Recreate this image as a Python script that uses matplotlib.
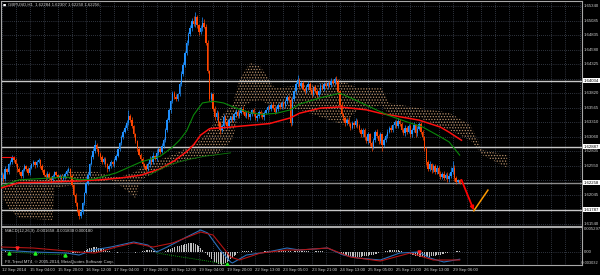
import numpy as np
import matplotlib
matplotlib.use("Agg")
import matplotlib.pyplot as plt
from matplotlib.transforms import blended_transform_factory as blend

# GBPUSD H1 candles (open = previous close)
first_open = 1.6235
closes = [
    1.6240, 1.6232, 1.6250, 1.6245, 1.6258, 1.6262, 1.6270, 1.6266, 1.6258, 1.6250,
    1.6245, 1.6238, 1.6248, 1.6255, 1.6250, 1.6243, 1.6252, 1.6258, 1.6262, 1.6256,
    1.6262, 1.6265, 1.6255, 1.6248, 1.6240, 1.6236, 1.6242, 1.6235, 1.6230, 1.6238,
    1.6244, 1.6240, 1.6235, 1.6238, 1.6232, 1.6236, 1.6242, 1.6246, 1.6250, 1.6238,
    1.6222, 1.6205, 1.6190, 1.6178, 1.6168, 1.6175, 1.6190, 1.6208, 1.6225, 1.6240,
    1.6258, 1.6270, 1.6282, 1.6292, 1.6285, 1.6276, 1.6270, 1.6262, 1.6268, 1.6258,
    1.6250, 1.6255, 1.6262, 1.6258, 1.6266, 1.6272, 1.6284, 1.6295, 1.6305, 1.6315,
    1.6322, 1.6330, 1.6342, 1.6336, 1.6325, 1.6310, 1.6298, 1.6285, 1.6275, 1.6268,
    1.6258, 1.6255, 1.6250, 1.6258, 1.6266, 1.6262, 1.6272, 1.6268, 1.6278, 1.6285,
    1.6280, 1.6290, 1.6300, 1.6318, 1.6335, 1.6352, 1.6368, 1.6382, 1.6376, 1.6372,
    1.6380, 1.6398, 1.6415, 1.6432, 1.6452, 1.6470, 1.6485, 1.6495, 1.6508, 1.6502,
    1.6515, 1.6500, 1.6488, 1.6495, 1.6505, 1.6498, 1.6470, 1.6420, 1.6372, 1.6380,
    1.6355, 1.6340, 1.6348, 1.6330, 1.6318, 1.6325, 1.6340, 1.6332, 1.6325, 1.6335,
    1.6340, 1.6336, 1.6345, 1.6350, 1.6342, 1.6348, 1.6355, 1.6350, 1.6343, 1.6348,
    1.6340, 1.6345, 1.6352, 1.6346, 1.6338, 1.6342, 1.6350, 1.6345, 1.6340, 1.6348,
    1.6352, 1.6358, 1.6355, 1.6362, 1.6357, 1.6350, 1.6355, 1.6362, 1.6358, 1.6365,
    1.6360, 1.6368, 1.6375, 1.6370, 1.6330, 1.6372, 1.6385, 1.6398, 1.6405, 1.6395,
    1.6400, 1.6390, 1.6385, 1.6392, 1.6398, 1.6388, 1.6380, 1.6392, 1.6386, 1.6378,
    1.6385, 1.6395, 1.6390, 1.6398, 1.6394, 1.6400, 1.6396, 1.6404, 1.6400, 1.6406,
    1.6402, 1.6385, 1.6362, 1.6345, 1.6338, 1.6330, 1.6336, 1.6328, 1.6322, 1.6330,
    1.6326, 1.6334, 1.6325, 1.6318, 1.6310, 1.6318, 1.6305, 1.6298, 1.6310, 1.6295,
    1.6288, 1.6300, 1.6315, 1.6308, 1.6298, 1.6310, 1.6292, 1.6300, 1.6308, 1.6315,
    1.6322, 1.6318, 1.6326, 1.6332, 1.6325, 1.6334, 1.6328, 1.6318, 1.6312, 1.6322,
    1.6315, 1.6325, 1.6310, 1.6318, 1.6326, 1.6312, 1.6320, 1.6328, 1.6315, 1.6305,
    1.6285, 1.6262, 1.6250, 1.6258, 1.6248, 1.6255, 1.6245, 1.6252, 1.6242, 1.6236,
    1.6242, 1.6235, 1.6240, 1.6232, 1.6238, 1.6245, 1.6252, 1.6235, 1.6228, 1.6230,
    1.6226,
]
# wick lengths in pips above / below the body
wick_hi = [
    4, 3, 5, 2, 3, 4, 5, 2, 3, 2,   3, 2, 4, 3, 2, 3, 4, 2, 3, 2,
    3, 4, 2, 3, 2, 3, 4, 2, 3, 3,   2, 3, 2, 4, 2, 3, 2, 3, 4, 2,
    3, 2, 3, 2, 3, 4, 3, 2, 3, 4,   3, 4, 5, 8, 3, 2, 3, 4, 2, 3,
    2, 3, 4, 2, 3, 4, 3, 2, 4, 3,   4, 5, 11, 3, 4, 2, 3, 2, 3, 2,
    3, 2, 3, 4, 6, 5, 8, 3, 6, 4,   3, 5, 4, 3, 4, 5, 3, 4, 3, 4,
    3, 4, 5, 4, 3, 5, 4, 6, 5, 8,   9, 4, 3, 5, 10, 6, 5, 4, 3, 4,
    3, 4, 5, 3, 4, 3, 5, 4, 3, 4,   3, 4, 3, 4, 3, 4, 3, 4, 3, 3,
    4, 3, 3, 4, 3, 4, 3, 3, 4, 3,   3, 4, 3, 3, 4, 3, 4, 3, 4, 3,
    4, 3, 4, 3, 5, 4, 3, 4, 9, 4,   3, 4, 3, 4, 5, 3, 4, 3, 4, 3,
    3, 4, 3, 4, 3, 4, 3, 4, 3, 4,   6, 4, 3, 4, 3, 4, 3, 4, 3, 4,
    3, 4, 3, 3, 4, 3, 4, 3, 4, 3,   3, 4, 3, 4, 3, 4, 3, 4, 3, 4,
    3, 4, 3, 4, 3, 4, 3, 4, 3, 4,   3, 4, 3, 4, 5, 3, 4, 3, 4, 3,
    3, 4, 3, 5, 3, 4, 3, 4, 3, 4,   3, 4, 3, 4, 5, 8, 12, 4, 3, 3,
    2,
]
wick_lo = [
    6, 4, 3, 4, 3, 2, 3, 4, 3, 5,   3, 4, 3, 2, 3, 4, 3, 2, 3, 4,
    3, 2, 3, 4, 3, 5, 3, 4, 5, 3,   4, 3, 4, 3, 5, 3, 4, 3, 2, 4,
    4, 3, 4, 3, 5, 3, 4, 3, 2, 3,   3, 2, 3, 4, 3, 4, 3, 4, 3, 4,
    5, 3, 4, 3, 4, 3, 2, 3, 4, 3,   3, 4, 3, 4, 3, 4, 3, 4, 3, 4,
    3, 5, 4, 3, 4, 3, 4, 3, 4, 3,   4, 3, 4, 3, 4, 3, 4, 3, 4, 3,
    4, 3, 4, 3, 4, 3, 4, 3, 4, 3,   4, 5, 4, 3, 4, 3, 4, 3, 4, 5,
    4, 5, 4, 6, 8, 4, 3, 4, 5, 4,   3, 4, 3, 4, 3, 4, 3, 4, 3, 4,
    3, 4, 3, 4, 3, 4, 3, 4, 3, 4,   3, 4, 3, 4, 3, 4, 3, 4, 3, 4,
    4, 3, 4, 3, 6, 4, 3, 4, 3, 4,   4, 3, 4, 3, 4, 3, 4, 3, 4, 3,
    3, 4, 3, 4, 3, 4, 3, 4, 3, 4,   4, 3, 4, 3, 4, 5, 3, 4, 5, 3,
    4, 3, 4, 3, 4, 5, 4, 3, 4, 5,   6, 4, 3, 4, 5, 3, 10, 4, 3, 4,
    3, 4, 3, 4, 3, 4, 3, 4, 3, 4,   4, 3, 5, 4, 3, 6, 4, 3, 4, 5,
    4, 5, 4, 3, 5, 4, 3, 4, 5, 4,   4, 5, 3, 4, 5, 4, 3, 6, 4, 3,
    2,
]

# moving averages (bar index, price)
slow_ma_bar = [0, 10, 27, 44, 56, 67, 79, 90, 98, 105, 109, 113, 118, 130, 141,
               152, 164, 169, 181, 192, 207, 215, 226, 237, 249, 254, 261]
slow_ma = [1.6217, 1.6226, 1.6227, 1.6229, 1.6231, 1.6234, 1.6239, 1.6250, 1.6264,
           1.6280, 1.6292, 1.6309, 1.6320, 1.6323, 1.6326, 1.6329, 1.6339, 1.6347,
           1.6356, 1.6358, 1.6353, 1.6347, 1.6341, 1.6335, 1.6323, 1.6314, 1.6300]
fast_ma_bar = [0, 10, 27, 37, 44, 52, 65, 79, 90, 97, 101, 105, 109, 114, 120, 126,
               134, 141, 148, 156, 164, 169, 181, 192, 198, 207, 219, 230, 239, 249,
               254, 260]
fast_ma = [1.6220, 1.6231, 1.6234, 1.6236, 1.6231, 1.6232, 1.6243, 1.6262, 1.6272,
           1.6288, 1.6300, 1.6316, 1.6344, 1.6365, 1.6368, 1.6365, 1.6355, 1.6348,
           1.6345, 1.6347, 1.6353, 1.6363, 1.6374, 1.6382, 1.6374, 1.6361, 1.6344,
           1.6332, 1.6323, 1.6306, 1.6297, 1.6274]
low_line_bar = [84, 95, 104, 115, 130]
low_line = [1.6240, 1.6257, 1.6265, 1.6272, 1.6278]
stub_bar = [0, 7]
stub = [1.6271, 1.6271]

# ichimoku cloud edges (bar index, upper, lower)
cloud_bar = [1, 5, 10, 29, 30, 37, 54, 62, 67, 76, 79, 90, 101, 113, 122, 131,
             135, 141, 147, 155, 169, 194, 202, 216, 220, 237, 254, 266, 273, 287]
cloud_top = [1.6228, 1.6229, 1.6231, 1.6231, 1.6234, 1.6245, 1.6245, 1.6238,
             1.6236, 1.6245, 1.6253, 1.6266, 1.6280, 1.6300, 1.6335, 1.6361,
             1.6405, 1.6435, 1.6428, 1.6391, 1.6396, 1.6402, 1.6391, 1.6391,
             1.6365, 1.6356, 1.6348, 1.6327, 1.6283, 1.6274]
cloud_bot = [1.6196, 1.6178, 1.6164, 1.6161, 1.6217, 1.6220, 1.6227, 1.6231,
             1.6222, 1.6199, 1.6231, 1.6248, 1.6262, 1.6270, 1.6274, 1.6300,
             1.6353, 1.6366, 1.6370, 1.6356, 1.6353, 1.6327, 1.6353, 1.6361,
             1.6344, 1.6339, 1.6318, 1.6300, 1.6274, 1.6252]

levels = [1.64034, 1.62887, 1.62258, 1.61787]
price_ticks = [1.65340, 1.65085, 1.64835, 1.64580, 1.64325, 1.64070, 1.63820,
               1.63565, 1.63310, 1.63060, 1.62805, 1.62550, 1.62300, 1.62045,
               1.61790, 1.61540]
price_labels = ["1.65340", "1.65085", "1.64835", "1.64580", "1.64325", "", "1.63820",
                "1.63565", "1.63310", "1.63060", "1.62805", "1.62550", "", "1.62045",
                "", "1.61540"]
time_labels = ["12 Sep 2014", "15 Sep 04:00", "15 Sep 20:00", "16 Sep 12:00",
               "17 Sep 04:00", "17 Sep 20:00", "18 Sep 12:00", "19 Sep 04:00",
               "19 Sep 20:00", "22 Sep 13:00", "23 Sep 05:00", "23 Sep 21:00",
               "24 Sep 13:00", "25 Sep 05:00", "25 Sep 21:00", "26 Sep 13:00",
               "29 Sep 06:00"]

# MACD pane
macd_bar = [0, 18, 37, 44, 52, 62, 75, 83, 88, 94, 105, 113, 117, 124, 130, 131,
            139, 151, 162, 169, 185, 194, 202, 215, 226, 237, 243, 251, 260]
macd_main = [0.00046, 0.0, -0.00023, -0.00069, 0.00046, 0.00115, 0.00230, 0.00161,
             0.0, 0.00115, 0.00345, 0.00507, 0.00438, 0.00046, -0.00230, -0.00253,
             -0.00069, 0.0, 0.00092, 0.00046, 0.00092, -0.00069, -0.00138, -0.00184,
             -0.00023, 0.0, -0.00138, -0.00230, -0.00166]
signal_bar = [0, 18, 44, 53, 65, 75, 86, 97, 113, 120, 130, 135, 147, 162, 169,
              185, 198, 215, 232, 245, 260]
macd_signal = [0.00115, 0.00092, 0.0, -0.00023, 0.00115, 0.00207, 0.00115, 0.00207,
               0.00461, 0.00392, -0.00115, -0.00184, -0.00023, 0.00046, 0.00046,
               0.00092, -0.00115, -0.00207, -0.00023, -0.00184, -0.00184]
# histogram, units of 0.0001
hist = [
    1, 1, 2, 1, 1, 0, -1, 0, 1, 1,   0, -1, -1, 0, 1, 1, 0, -1, 0, 1,
    1, 1, 0, -1, -1, -1, 0, 0, -1, -1,   0, 1, 0, -1, 0, 0, 1, 1, 0, -1,
    -2, -3, -3, -2, -2, -1, 1, 3, 5, 7,   9, 10, 11, 12, 11, 10, 9, 7, 6, 4,
    3, 2, 1, 0, -1, -1, -2, -1, -1, 0,   0, 1, 1, 0, -1, -1, -2, -1, 0, 1,
    2, 3, 4, 5, 5, 4, 3, 2, 2, 1,   0, 0, 1, 2, 4, 6, 8, 10, 11, 13,
    14, 15, 16, 17, 18, 19, 20, 21, 21, 20,   18, 16, 13, 9, 5, 1, -3, -7, -11, -15,
    -19, -22, -25, -27, -28, -29, -28, -26, -24, -21,   -17, -13, -9, -6, -3, -1, 1, 2, 2, 3,
    3, 2, 2, 1, 1, 0, -1, 0, 1, 2,   2, 3, 3, 2, 2, 1, 1, 2, 3, 3,
    2, 2, 3, 3, 2, 1, 2, 3, 3, 3,   3, 3, 2, 2, 2, 1, 1, 1, 2, 2,
    2, 2, 2, 1, 1, 1, 1, 1, 1, 0,   0, -1, -3, -5, -6, -8, -9, -10, -10, -11,
    -11, -12, -12, -11, -11, -10, -10, -9, -9, -8,   -7, -6, -5, -4, -3, -1, 0, 1, 2, 3,
    4, 5, 5, 5, 4, 4, 3, 2, 1, 0,   -1, -2, -4, -6, -8, -9, -10, -11, -12, -12,
    -12, -12, -11, -11, -10, -10, -9, -8, -7, -6,   -5, -4, -3, -2, -1, 0, 1, 1, 2, 2,
    2,
]
buy_bar = [4, 19, 36, 128]
buy_val = [-0.00023, -0.00023, -0.00069, -0.0028]
sell_bar = [9, 237]
sell_val = [0.0009, 0.0]

PIP = 0.0001
BULL, BEAR = "#1E90FF", "#FF4500"
TXT = "#D0D0D0"
GRID = "#5C6678"
W, H = 600, 275

plt.rcParams["hatch.linewidth"] = 0.6
plt.rcParams["font.family"] = ["Liberation Sans", "DejaVu Sans"]
fig = plt.figure(figsize=(6, 2.75), dpi=100, facecolor="black")


def px_axes(x0, y0, x1, y1):
    a = fig.add_axes([x0 / W, 1 - y1 / H, (x1 - x0) / W, (y1 - y0) / H])
    a.set_facecolor("black")
    a.set_xticks([])
    a.set_yticks([])
    for s in a.spines.values():
        s.set_color("#A8A8A8")
        s.set_linewidth(0.8)
    return a


ax = px_axes(1, 1, 582, 226)
ax2 = px_axes(1, 227, 582, 265)
xlim = (-0.3, 329.4)
ax.set_xlim(*xlim)
ax2.set_xlim(*xlim)
ax.set_ylim(1.61505, 1.65427)
ax2.set_ylim(-0.00299, 0.00576)

# grid
for k in range(0, 330, 8):
    ax.axvline(k, color=GRID, lw=0.5, ls=(0, (1, 2)), zorder=0)
    ax2.axvline(k, color=GRID, lw=0.5, ls=(0, (1, 2)), zorder=0)
for p in price_ticks:
    ax.axhline(p, color=GRID, lw=0.5, ls=(0, (1, 2)), zorder=0)
ax2.axhline(0.0, color=GRID, lw=0.5, ls=(0, (1, 2)), zorder=0)

# cloud
ax.fill_between(cloud_bar, cloud_bot, cloud_top, facecolor="none",
                edgecolor="#B8906A", hatch="......", linewidth=0, zorder=1)

# horizontal levels
for lv, col in zip(levels, ["#C8C8C8", "#C8C8C8", "#8C8C8C", "#C8C8C8"]):
    ax.axhline(lv, color=col, lw=1.0, zorder=2)

# candles
n = min(len(closes), len(wick_hi), len(wick_lo))
c = np.array(closes[:n])
o = np.concatenate([[first_open], c[:-1]])
hi = np.maximum(o, c) + np.array(wick_hi[:n]) * PIP
lo = np.minimum(o, c) - np.array(wick_lo[:n]) * PIP
idx = np.arange(n)
cols = np.where(c >= o, BULL, BEAR)
ax.vlines(idx, lo, hi, colors=cols, lw=0.5, zorder=3)
ax.bar(idx, np.maximum(np.abs(c - o), 0.3 * PIP), bottom=np.minimum(o, c),
       width=0.8, color=cols, linewidth=0, zorder=3)

# indicator lines
ax.plot(slow_ma_bar, slow_ma, color="#FF1010", lw=1.1, zorder=4)
ax.plot(fast_ma_bar, fast_ma, color="#0A8A0A", lw=0.8, zorder=4)
ax.plot(low_line_bar, low_line, color="#0A7A0A", lw=0.6, zorder=4)
ax.plot(stub_bar, stub, color="#FF1010", lw=0.8, zorder=4)

# forecast arrows
ax.annotate("", xy=(268, 1.6178), xytext=(261, 1.6231),
            arrowprops=dict(arrowstyle="-|>", color="#FF0000", lw=1.3,
                            mutation_scale=5, shrinkA=0, shrinkB=0), zorder=5)
ax.plot([268, 276], [1.6177, 1.6213], color="#FF9900", lw=1.1, zorder=5)

# MACD pane
nh = min(len(hist), n)
ax2.bar(np.arange(nh), np.array(hist[:nh]) * PIP, width=0.55, color="#BEBEBE",
        linewidth=0, zorder=2)
ax2.plot(macd_bar, macd_main, color="#2A6FB8", lw=0.8, zorder=3)
ax2.plot(signal_bar, macd_signal, color="#B41414", lw=0.8, zorder=3)
ax2.plot([3, 37], [0.0, -0.0007], color="#10C010", lw=0.6, ls=(0, (1, 1.5)), zorder=3)
ax2.plot([88, 128], [-0.00023, -0.0028], color="#10C010", lw=0.6, ls=(0, (1, 1.5)), zorder=3)
ax2.plot(buy_bar, buy_val, "^", color="#22EE22", ms=2.2, zorder=4)
ax2.plot(sell_bar, sell_val, "v", color="#FF2222", ms=2.2, zorder=4)

# texts
fs = 3.1
fig.text(3 / W, 1 - 5 / H, "\u25a0", color="white", fontsize=2.4, va="center",
         family="DejaVu Sans")
fig.text(8 / W, 1 - 5 / H, "GBPUSD,H1  1.62284 1.62307 1.62250 1.62256",
         color=TXT, fontsize=fs, va="center")
fig.text(5 / W, 1 - 231 / H, "MACD(12,26,9) -0.001658 -0.001838 0.000180",
         color=TXT, fontsize=fs, va="center")
fig.text(5 / W, 1 - 262 / H, "FX-Trend MT4, \u00a9 2005-2014, MetaQuotes Software Corp.",
         color=TXT, fontsize=fs, va="center")

tr = blend(fig.transFigure, ax.transData)
for p, lab in zip(price_ticks, price_labels):
    if lab:
        ax.text(584 / W, p, lab, transform=tr, color=TXT, fontsize=fs, va="center",
                clip_on=False)
for lv in levels:
    ax.text(584 / W, lv, f"{lv:.5f}", transform=tr, color="black", fontsize=fs,
            va="center", clip_on=False,
            bbox=dict(facecolor="white", edgecolor="none", pad=0.4))

# MACD scale labels
fig.text(584 / W, 1 - 229 / H, "0.005297", color=TXT, fontsize=fs, va="center")
fig.text(584 / W, 1 - 252 / H, "0.00", color=TXT, fontsize=fs, va="center")
fig.text(598.5 / W, 1 - 262.5 / H, "-0.003032", color=TXT, fontsize=2.9,
         va="center", ha="right")

trx = blend(ax2.transData, fig.transFigure)
for k, lab in enumerate(time_labels):
    ax2.text(16 * k, 1 - 270 / H, lab, transform=trx, color=TXT, fontsize=fs,
             va="center", ha="left", clip_on=False)

fig.savefig("out.png", dpi=100, facecolor="black")
